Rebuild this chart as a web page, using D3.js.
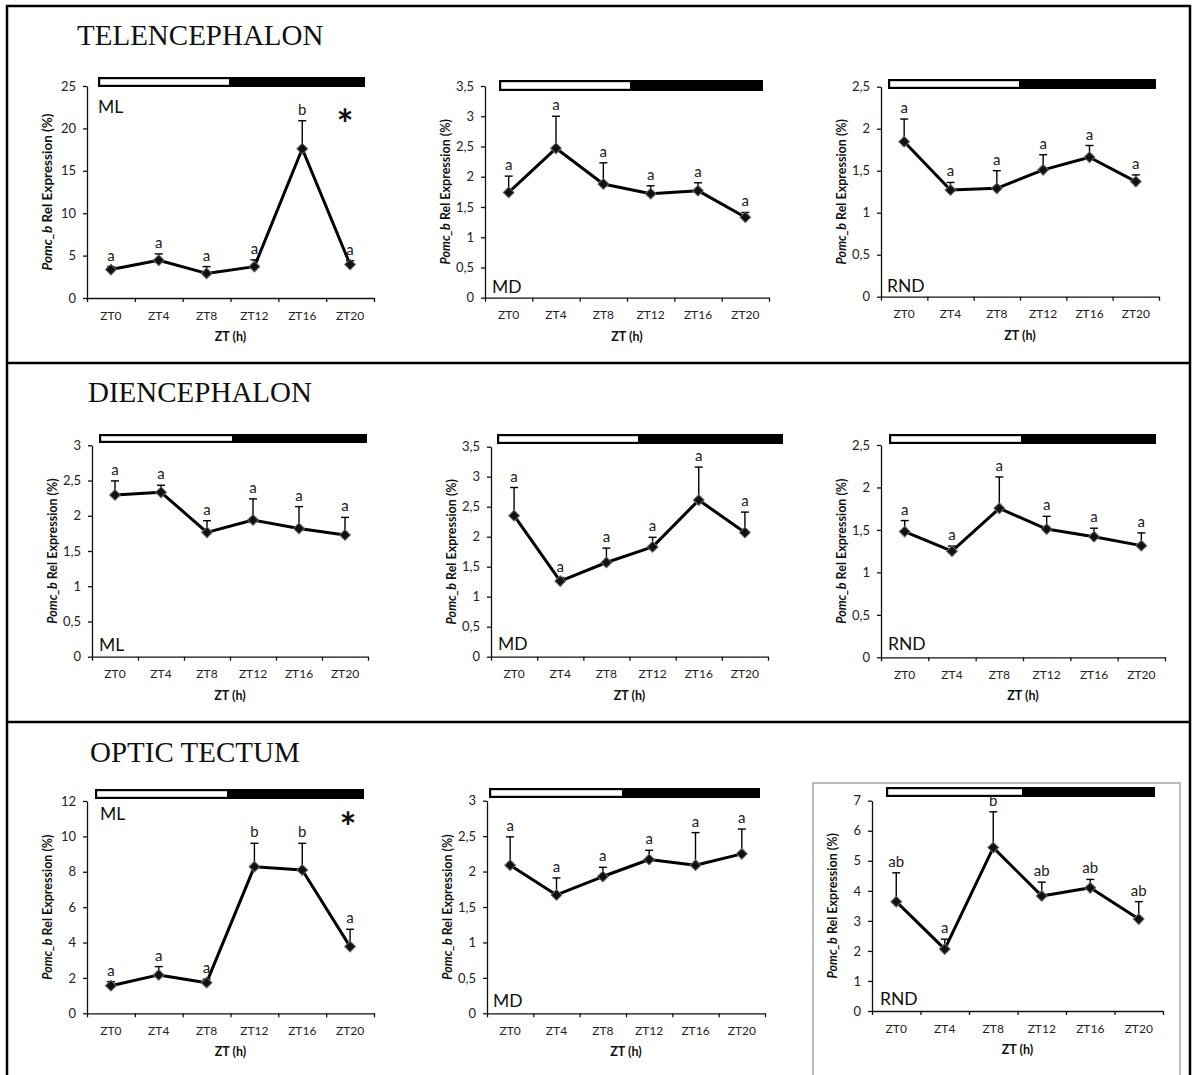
<!DOCTYPE html>
<html>
<head>
<meta charset="utf-8">
<script src="https://cdn.jsdelivr.net/npm/d3@7"></script>
<style>
  body { margin: 0; background: #fff; }
  svg { display: block; }
</style>
</head>
<body>
<svg id="fig" width="1192" height="1075"></svg>
<script>
// ---- data -------------------------------------------------------------
const zt = ["ZT0", "ZT4", "ZT8", "ZT12", "ZT16", "ZT20"];
const regions = ["TELENCEPHALON", "DIENCEPHALON", "OPTIC TECTUM"];
const strains = ["ML", "MD", "RND"];

// y-axis maximum and tick step for each panel (row by row)
const yMax  = [25, 3.5, 2.5, 3, 3.5, 2.5, 12, 3, 7];
const yStep = [5, 0.5, 0.5, 0.5, 0.5, 0.5, 2, 0.5, 1];

// Telencephalon
const telML     = [3.35, 4.45, 2.9, 3.7, 17.6, 3.95];
const telMLsem  = [0.35, 0.75, 0.8, 0.8, 3.3, 0.45];
const telMLsig  = ["a", "a", "a", "a", "b", "a"];
const telMD     = [1.74, 2.47, 1.88, 1.72, 1.77, 1.33];
const telMDsem  = [0.27, 0.53, 0.35, 0.13, 0.13, 0.08];
const telMDsig  = ["a", "a", "a", "a", "a", "a"];
const telRND    = [1.845, 1.27, 1.29, 1.51, 1.66, 1.37];
const telRNDsem = [0.27, 0.09, 0.21, 0.18, 0.14, 0.08];
const telRNDsig = ["a", "a", "a", "a", "a", "a"];

// Diencephalon
const diML      = [2.295, 2.333, 1.765, 1.94, 1.82, 1.727];
const diMLsem   = [0.2, 0.1, 0.165, 0.3, 0.31, 0.25];
const diMLsig   = ["a", "a", "a", "a", "a", "a"];
const diMD      = [2.35, 1.26, 1.57, 1.83, 2.61, 2.07];
const diMDsem   = [0.47, 0.06, 0.24, 0.16, 0.55, 0.34];
const diMDsig   = ["a", "a", "a", "a", "a", "a"];
const diRND     = [1.48, 1.25, 1.754, 1.51, 1.42, 1.315];
const diRNDsem  = [0.13, 0.06, 0.37, 0.15, 0.10, 0.15];
const diRNDsig  = ["a", "a", "a", "a", "a", "a"];

// Optic tectum
const otML      = [1.56, 2.17, 1.73, 8.29, 8.10, 3.77];
const otMLsem   = [0.23, 0.47, 0.2, 1.32, 1.51, 0.98];
const otMLsig   = ["a", "a", "a", "b", "b", "a"];
const otMD      = [2.09, 1.67, 1.93, 2.17, 2.09, 2.25];
const otMDsem   = [0.4, 0.24, 0.13, 0.13, 0.46, 0.35];
const otMDsig   = ["a", "a", "a", "a", "a", "a"];
const otRND     = [3.64, 2.06, 5.44, 3.83, 4.10, 3.06];
const otRNDsem  = [0.96, 0.33, 1.19, 0.46, 0.28, 0.58];
const otRNDsig  = ["ab", "a", "b", "ab", "ab", "ab"];

// significant daily rhythm marker
const rhythmic = [true, false, false, false, false, false, true, false, false];

const means = [telML, telMD, telRND, diML, diMD, diRND, otML, otMD, otRND];
const sems  = [telMLsem, telMDsem, telRNDsem, diMLsem, diMDsem, diRNDsem, otMLsem, otMDsem, otRNDsem];
const sigs  = [telMLsig, telMDsig, telRNDsig, diMLsig, diMDsig, diRNDsig, otMLsig, otMDsig, otRNDsig];

// ---- layout -----------------------------------------------------------
const layout = [
  {x0: 87,  x1: 374,  yTop: 86,    yZero: 298,    bar: {x0: 98,  xs: 229,  x1: 365,  y0: 77,  y1: 87},  tag: {x: 98,  y: 113}, star: {x: 345, y: 117}},
  {x0: 485, x1: 769,  yTop: 86,    yZero: 297.7,  bar: {x0: 499, xs: 630,  x1: 763,  y0: 80,  y1: 91},  tag: {x: 492, y: 293}},
  {x0: 881, x1: 1159, yTop: 86.7,  yZero: 296.7,  bar: {x0: 888, xs: 1019, x1: 1156, y0: 79,  y1: 89},  tag: {x: 887, y: 292}},
  {x0: 92,  x1: 368,  yTop: 445.3, yZero: 656.7,  bar: {x0: 99,  xs: 232,  x1: 367,  y0: 434, y1: 443}, tag: {x: 99,  y: 651}},
  {x0: 491, x1: 768,  yTop: 446.7, yZero: 656.7,  bar: {x0: 497, xs: 638,  x1: 783,  y0: 434, y1: 444}, tag: {x: 498, y: 650}},
  {x0: 881, x1: 1165, yTop: 445,   yZero: 657.3,  bar: {x0: 889, xs: 1021, x1: 1156, y0: 434, y1: 444}, tag: {x: 888, y: 650}},
  {x0: 87,  x1: 374,  yTop: 801,   yZero: 1013.3, bar: {x0: 95,  xs: 227,  x1: 364,  y0: 789, y1: 799}, tag: {x: 100, y: 820}, star: {x: 348, y: 820}},
  {x0: 487, x1: 765,  yTop: 800.7, yZero: 1013.3, bar: {x0: 489, xs: 622,  x1: 760,  y0: 788, y1: 798}, tag: {x: 493, y: 1007}},
  {x0: 872, x1: 1163, yTop: 800.7, yZero: 1011,   bar: {x0: 886, xs: 1022, x1: 1155, y0: 787, y1: 797}, tag: {x: 880, y: 1005}}
];
const titlePos = [{x: 77, y: 45}, {x: 88, y: 402}, {x: 90, y: 762}];

const SANS = "Lato, 'Open Sans', sans-serif";
const SERIF = "'Liberation Serif', 'Times New Roman', serif";

const svg = d3.select("#fig");
const commaLocale = d3.formatLocale({decimal: ",", thousands: ".", grouping: [3], currency: ["", ""]});
const fmt = commaLocale.format("~g");

// ---- figure frame -----------------------------------------------------
const frame = svg.append("g").attr("stroke", "#000").attr("stroke-width", 2.5);
frame.append("line").attr("x1", 7).attr("x2", 7).attr("y1", 5).attr("y2", 1075);
frame.append("line").attr("x1", 1190).attr("x2", 1190).attr("y1", 5).attr("y2", 1075);
frame.append("line").attr("x1", 6).attr("x2", 1191).attr("y1", 6).attr("y2", 6);
frame.append("line").attr("x1", 6).attr("x2", 1191).attr("y1", 363).attr("y2", 363);
frame.append("line").attr("x1", 6).attr("x2", 1191).attr("y1", 722).attr("y2", 722);

// thin grey box around the last panel
svg.append("rect")
  .attr("x", 813).attr("y", 783).attr("width", 367).attr("height", 400)
  .attr("fill", "none").attr("stroke", "#a6a6a6").attr("stroke-width", 1.5);

// region titles
svg.selectAll("text.region").data(regions).join("text")
  .attr("class", "region")
  .attr("x", (d, i) => titlePos[i].x)
  .attr("y", (d, i) => titlePos[i].y)
  .attr("font-family", SERIF)
  .attr("font-size", 29)
  .attr("fill", "#111")
  .text(d => d);

// ---- panels -----------------------------------------------------------
means.forEach((mean, p) => {
  const L = layout[p];
  const g = svg.append("g");

  const y = d3.scaleLinear().domain([0, yMax[p]]).range([L.yZero, L.yTop]);
  const xb = d3.scaleBand().domain(zt).range([L.x0, L.x1]).padding(0);
  const xEdge = d3.scaleLinear().domain([0, zt.length]).range([L.x0, L.x1]);
  const cx = d => xb(d) + xb.bandwidth() / 2;

  // light / dark bar
  g.append("rect")
    .attr("x", L.bar.x0).attr("y", L.bar.y0)
    .attr("width", L.bar.x1 - L.bar.x0).attr("height", L.bar.y1 - L.bar.y0)
    .attr("fill", "#000");
  g.append("rect")
    .attr("x", L.bar.x0 + 2.2).attr("y", L.bar.y0 + 2.2)
    .attr("width", L.bar.xs - L.bar.x0 - 2.2).attr("height", L.bar.y1 - L.bar.y0 - 4.4)
    .attr("fill", "#fff");

  // y axis
  const ticks = d3.range(0, yMax[p] + yStep[p] / 2, yStep[p]);
  const yAx = g.append("g")
    .attr("transform", `translate(${L.x0},0)`)
    .call(d3.axisLeft(y).tickValues(ticks).tickFormat(fmt).tickSize(4).tickSizeOuter(0).tickPadding(7));
  yAx.selectAll("text").attr("font-family", SANS).attr("font-size", 13).attr("fill", "#222");

  // x axis: boundary ticks
  const xTk = g.append("g")
    .attr("transform", `translate(0,${L.yZero})`)
    .call(d3.axisBottom(xEdge).tickValues(d3.range(0, zt.length + 1)).tickFormat("").tickSize(4).tickSizeOuter(0));
  // x axis: category labels
  const xLab = g.append("g")
    .attr("transform", `translate(0,${L.yZero})`)
    .call(d3.axisBottom(xb).tickSize(0).tickPadding(13));
  xLab.select(".domain").remove();
  xLab.selectAll("text").attr("font-family", SANS).attr("font-size", 12).attr("fill", "#222");

  [yAx, xTk].forEach(a => {
    a.selectAll("path, line").attr("stroke", "#111").attr("stroke-width", 1.3);
  });

  // axis titles
  g.append("text")
    .attr("x", (L.x0 + L.x1) / 2).attr("y", L.yZero + 43)
    .attr("text-anchor", "middle")
    .attr("font-family", SANS).attr("font-size", 12.5).attr("font-weight", "bold").attr("fill", "#111")
    .text("ZT (h)");
  const yt = g.append("text")
    .attr("transform", `translate(${L.x0 - 35},${(L.yZero + L.yTop) / 2}) rotate(-90)`)
    .attr("text-anchor", "middle")
    .attr("font-family", SANS).attr("font-size", p === 0 ? 13.5 : 12.5).attr("font-weight", "bold").attr("fill", "#111");
  yt.append("tspan").attr("font-style", "italic").text("Pomc_b");
  yt.append("tspan").text(" Rel Expression (%)");

  const rows = zt.map((t, i) => ({t, m: mean[i], e: sems[p][i], s: sigs[p][i]}));

  // error bars (upper half only)
  const eb = g.append("g").attr("stroke", "#000").attr("stroke-width", 1.4);
  eb.selectAll("line.v").data(rows).join("line")
    .attr("x1", d => cx(d.t)).attr("x2", d => cx(d.t))
    .attr("y1", d => y(d.m)).attr("y2", d => y(d.m + d.e));
  eb.selectAll("line.c").data(rows).join("line")
    .attr("x1", d => cx(d.t) - 4).attr("x2", d => cx(d.t) + 4)
    .attr("y1", d => y(d.m + d.e)).attr("y2", d => y(d.m + d.e));

  // mean line
  g.append("path")
    .datum(rows)
    .attr("fill", "none").attr("stroke", "#000").attr("stroke-width", 3)
    .attr("stroke-linejoin", "round")
    .attr("d", d3.line().x(d => cx(d.t)).y(d => y(d.m)));

  // diamond markers
  g.selectAll("path.mk").data(rows).join("path")
    .attr("class", "mk")
    .attr("transform", d => `translate(${cx(d.t)},${y(d.m)}) rotate(45)`)
    .attr("d", d3.symbol().type(d3.symbolSquare).size(58))
    .attr("fill", "#111").attr("stroke", "#666").attr("stroke-width", 1);

  // significance letters
  g.selectAll("text.sig").data(rows).join("text")
    .attr("class", "sig")
    .attr("x", d => cx(d.t)).attr("y", d => y(d.m + d.e) - 6)
    .attr("text-anchor", "middle")
    .attr("font-family", SANS).attr("font-size", 15).attr("fill", "#222")
    .text(d => d.s);

  // strain tag
  g.append("text")
    .attr("x", L.tag.x).attr("y", L.tag.y)
    .attr("font-family", SANS).attr("font-size", 17.5).attr("fill", "#111")
    .text(strains[p % 3]);

  if (rhythmic[p] && L.star) {
    g.append("text")
      .attr("x", L.star.x).attr("y", L.star.y + 22)
      .attr("text-anchor", "middle")
      .attr("font-family", SANS).attr("font-size", 40).attr("font-weight", "bold").attr("fill", "#111")
      .text("*");
  }
});
</script>
</body>
</html>
